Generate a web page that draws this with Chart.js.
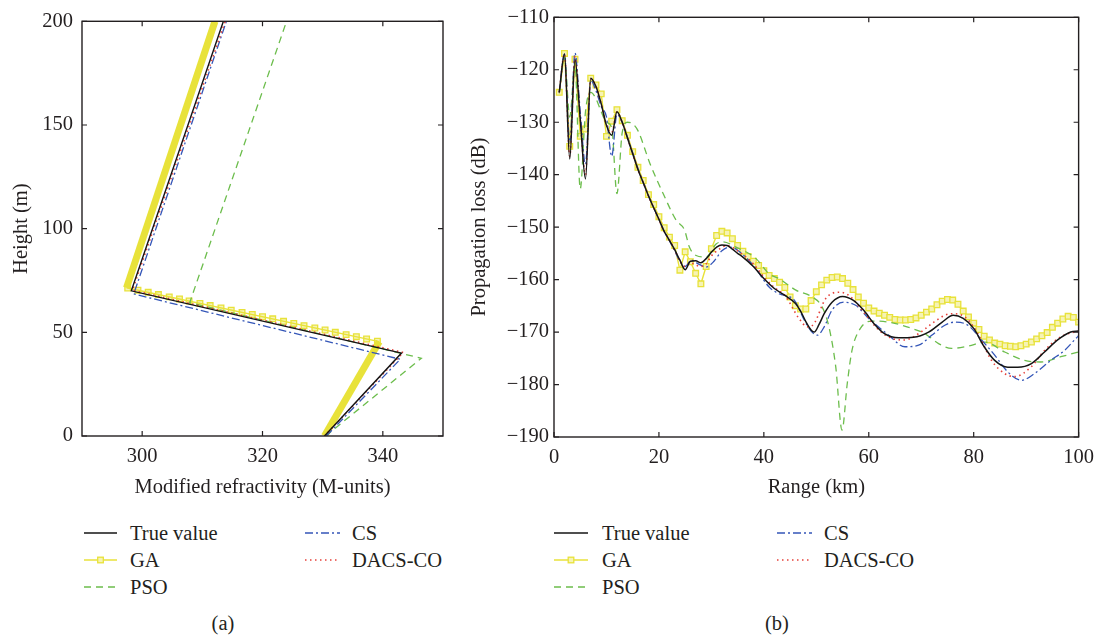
<!DOCTYPE html>
<html>
<head>
<meta charset="utf-8">
<script src="https://cdn.jsdelivr.net/npm/chart.js@4.4.0/dist/chart.umd.min.js"></script>
<style>
  body { margin: 0; background: #fff; width: 1102px; height: 639px; position: relative; overflow: hidden;
         font-family: 'Liberation Serif', 'DejaVu Serif', serif; color: #231f20; }
  .panel { position: absolute; top: 0; }
  #canvasA { left: 0; }
  #canvasB { left: 450px; }
  .legText { position: absolute; font-size: 20.5px; line-height: 1; transform: translateY(-50%); white-space: nowrap; }
  .legLine { position: absolute; overflow: visible; }
  .caption { position: absolute; font-size: 20.5px; line-height: 1; transform: translate(-50%, -50%); }
</style>
</head>
<body>
<canvas id="canvasA" class="panel" width="460" height="500"></canvas>
<canvas id="canvasB" class="panel" width="652" height="500"></canvas>
<div id="legends"></div>
<div class="caption" style="left:223px;top:623px">(a)</div>
<div class="caption" style="left:777px;top:623px">(b)</div>

<script>
/* Refractivity profile inversion — (a) profiles, (b) propagation loss */

// ---- (a) modified refractivity profiles (M-units vs height) ----
const M_TICKS = [300, 320, 340];
const H_TICKS = [0, 50, 100, 150, 200];

const TRUE_M = [330.3, 343.1, 298.2, 313.5];
const TRUE_H = [0, 40, 70, 200];
const GA_M = [330.3, 339.4, 297.4, 312.1];
const GA_H = [0, 45.5, 71.5, 200];
const PSO_M = [330.5, 346.4, 307.9, 324.0];
const PSO_H = [0, 37.5, 64.3, 200];
const CS_M = [330.6, 342.9, 298.6, 314.0];
const CS_H = [0, 37.0, 68.5, 200];
const DACS_M = [330.3, 343.4, 298.4, 313.8];
const DACS_H = [0, 40.3, 70.3, 200];
// GA square markers visible along the trapping-layer segment
const GA_MARK_M = [297.6, 299.3, 301.0, 302.7, 304.5, 306.2, 307.8, 309.6, 311.3, 313.1, 314.8, 316.6, 318.3,
  320.0, 321.7, 323.5, 325.2, 326.9, 328.7, 330.4, 332.1, 333.9, 335.6, 337.3, 339.1];
const GA_MARK_H = [71.4, 70.3, 69.3, 68.2, 67.1, 66.1, 65.1, 63.9, 62.9, 61.8, 60.7, 59.6, 58.6,
  57.5, 56.5, 55.3, 54.3, 53.2, 52.1, 51.1, 50.0, 48.9, 47.9, 46.8, 45.7];

// ---- (b) propagation loss vs range ----
const KM_TICKS = [0, 20, 40, 60, 80, 100];
const DB_TICKS = [-190, -180, -170, -160, -150, -140, -130, -120, -110];

const TRUE_KM = [1,2,3,4,5,6,7,8,9,10,11,12,13,14,15,16,17,18,19,20,21,22,23,24,25,26,27,28,29,30,31,32,33,34,35,36,38,40,42,44,46,47,48,49,49.6,50.5,51.5,53,55,57,59,61,63,65.7,68.5,71.4,74,76.1,78,80,82,84,86.5,88.4,91,93.5,96,98.5,100];
const TRUE_LOSS = [-124.3,-117,-137,-118,-129.4,-140.8,-121.6,-123.2,-126.5,-130.6,-132.5,-128,-130,-133,-136,-139,-141.5,-144,-146.3,-148.5,-150.8,-152.5,-154.3,-156.3,-158.1,-156.5,-156.4,-156.8,-156,-154.8,-153.8,-153.4,-153.5,-154.2,-155,-155.7,-157.5,-159.8,-161.7,-163,-164.5,-166,-168,-169.6,-170,-168.6,-166.5,-164.3,-163.2,-163.9,-165.8,-168.4,-170.3,-171.1,-171.0,-170.0,-168.1,-166.8,-167.4,-169.3,-172.8,-175.4,-176.7,-176.7,-176.0,-173.8,-171.5,-170.0,-169.8];

const GA_KM = [1,2,3,4,5,6,7,8,9,10,11,12,13,14,15,16,17,18,19,20,21,22,23,24,25,26,27,28,29,30,31,32,33,34,35,36,37,38,39,40,41,42,43,44,45,46,47,48,49,50,51,52,53,54,55,56,57,58,59,60,61,62,63,64,65,66,67,68,69,70,71,72,73,74,75,76,77,78,79,80,81,82,83,84,85,86,87,88,89,90,91,92,93,94,95,96,97,98,99,100];
const GA_LOSS = [-124.3,-116.9,-134.6,-118.0,-132.7,-131.3,-121.6,-122.9,-124.6,-132.7,-129.8,-127.6,-129.7,-132.5,-135.6,-138.6,-141.1,-143.8,-145.7,-148.0,-150.1,-151.9,-153.5,-158.2,-154.7,-156.6,-158.8,-160.8,-157.5,-154.1,-151.6,-150.8,-151.1,-152.2,-153.5,-154.6,-155.6,-156.5,-157.3,-158.3,-159.2,-159.8,-160.5,-161.5,-163.3,-165.0,-165.6,-165.6,-164.0,-162.3,-161.0,-160.1,-159.6,-159.5,-159.8,-160.7,-161.9,-163.3,-164.5,-165.4,-166.0,-166.4,-166.8,-167.2,-167.6,-167.7,-167.7,-167.6,-167.3,-166.8,-166.2,-165.6,-164.8,-164.1,-163.8,-163.9,-164.7,-166.0,-167.1,-168.3,-169.5,-170.8,-171.5,-172.1,-172.3,-172.6,-172.7,-172.8,-172.6,-172.3,-171.9,-171.3,-170.7,-170.1,-169.1,-168.3,-167.5,-167.0,-167.2,-168.1];

const PSO_KM = [1,2,3,4,5,6,7,8,9,10,11,12,13,14,15,16,18.3,20.8,23.3,24.9,25.8,27.1,29,30.9,32.2,34.7,38.5,41,42.9,46.1,49.2,51.1,52.4,53.7,54.9,55.9,56.8,58.4,60.6,63.8,68.2,70.7,73.3,75.8,78.9,82.1,85.9,89.7,92.8,96.6,100];
const PSO_LOSS = [-124.5,-117.5,-129,-119,-142.7,-128,-124.3,-125.5,-128,-130,-131,-143.6,-132,-130,-130.3,-131.6,-137.9,-143.6,-148.7,-150.6,-153.8,-155.4,-155.7,-153.2,-152.8,-153.8,-156,-158.9,-159.8,-162,-163.3,-165.2,-169,-176.6,-188.7,-179.8,-173.5,-169.3,-167.9,-168.1,-169.3,-170.3,-172.2,-173.1,-172.7,-171.9,-173.8,-175.4,-175.7,-174.7,-173.8];

const CS_KM = [1,2,3,4,5,6,7,8,9,10,11,12,13,14,15,16,17,18,19,20,21,22,23,24,25,26.2,27.5,29,30.5,32,33.5,35,38,41,42.9,45.8,47.7,49,50.2,51.5,53,55.2,57.5,60,63.8,66.9,69.5,72,74.5,76.4,78.9,81.5,84,86.5,89.1,91.6,94.7,97.3,99.5,100];
const CS_LOSS = [-124.3,-117,-134,-116.8,-128,-138,-122,-124,-127,-129,-136.5,-128.5,-130,-132.8,-135.8,-138.8,-141.5,-144,-146.3,-148.5,-150.8,-152.6,-154.5,-156.5,-157.5,-156.3,-157,-157.6,-156.5,-154.5,-153.8,-154.4,-157.3,-161.4,-162.7,-163.9,-167.7,-169.8,-170.6,-169,-165.8,-164.3,-164.9,-167.4,-170.6,-172.8,-172.5,-170.6,-168.7,-168.1,-168.7,-171.5,-174.4,-177.6,-179.2,-177.9,-175.4,-173.5,-171.2,-170.7];

const DACS_KM = [1,2,3,4,5,6,7,8,9,10,11,12,13,14,15,16,17,18,19,20,21,22,23,24,25,26,27,28,29,30,31.5,33,35,38,40,42,44,46.7,48.3,49.5,51.8,54.3,56.2,58.7,61.9,64.4,66.9,69.5,72,74.5,75.8,78.3,80.8,83.4,85.9,87.8,91,93.5,96.6,99.2,100];
const DACS_LOSS = [-124.3,-117,-136.5,-117.5,-129.5,-140,-121.8,-123.2,-126.5,-130.5,-132,-128,-130,-133,-136,-139,-141.5,-144,-146.3,-148.5,-150.8,-152.5,-154.3,-156.5,-157.5,-156.8,-157.2,-157.5,-157,-155.5,-154.2,-153.5,-154.5,-157,-159.5,-161.5,-163,-167.4,-169,-168.5,-163.6,-162.4,-163,-165.8,-169.6,-171.2,-171.5,-170.3,-168.4,-166.8,-166.5,-167.1,-170.3,-175.4,-177.9,-178.5,-176.6,-173.5,-170.9,-170,-169.9];

const COLORS = {
  true: '#151515', ga: '#e8e23a', gaFill: '#f6f3b4',
  pso: '#6cbd4c', cs: '#3456b8', dacs: '#e6403a', axis: '#231f20'
};
const DASH = { pso: [7, 5], cs: [8, 3, 2, 3], dacs: [1.5, 3.5] };
const FONT = { family: "'Liberation Serif', 'DejaVu Serif', serif", size: 20.5 };

const pts = (xs, ys) => xs.map((x, i) => ({ x, y: ys[i] }));

// frame + inward ticks on all four sides
const framePlugin = {
  id: 'frame',
  afterDatasetsDraw(chart) {
    const { ctx, chartArea: a, scales } = chart;
    ctx.save();
    ctx.strokeStyle = COLORS.axis;
    ctx.lineWidth = 1.4;
    ctx.strokeRect(a.left, a.top, a.right - a.left, a.bottom - a.top);
    ctx.lineWidth = 1.2;
    const tl = 5;
    ctx.beginPath();
    scales.x.ticks.forEach(t => {
      const px = scales.x.getPixelForValue(t.value);
      ctx.moveTo(px, a.bottom); ctx.lineTo(px, a.bottom - tl);
      ctx.moveTo(px, a.top); ctx.lineTo(px, a.top + tl);
    });
    scales.y.ticks.forEach(t => {
      const py = scales.y.getPixelForValue(t.value);
      ctx.moveTo(a.left, py); ctx.lineTo(a.left + tl, py);
      ctx.moveTo(a.right, py); ctx.lineTo(a.right - tl, py);
    });
    ctx.stroke();
    ctx.restore();
  }
};

function axis(min, max, tickList, title, opts) {
  return {
    type: 'linear', min, max,
    afterBuildTicks: s => { s.ticks = tickList.map(v => ({ value: v })); },
    afterFit: opts.fit,
    grid: { display: false, drawTicks: false },
    border: { display: false },
    ticks: { font: FONT, color: COLORS.axis, padding: opts.pad, maxRotation: 0, autoSkip: false,
             callback: v => String(v).replace('-', '\u2212') },
    title: { display: true, text: title, font: FONT, color: COLORS.axis, padding: opts.titlePad }
  };
}

function lineSet(label, data, color, width, dash, extra) {
  return Object.assign({
    label, data, borderColor: color, backgroundColor: color, borderWidth: width,
    borderDash: dash || [], pointRadius: 0, showLine: true, fill: false, tension: 0
  }, extra || {});
}

function baseOptions(scales, padding) {
  return {
    responsive: false, animation: false, devicePixelRatio: 1,
    layout: { padding },
    plugins: { legend: { display: false }, tooltip: { enabled: false } },
    scales
  };
}

function renderProfiles() {
  const ctx = document.getElementById('canvasA').getContext('2d');
  new Chart(ctx, {
    type: 'scatter',
    data: {
      datasets: [
        lineSet('True value', pts(TRUE_M, TRUE_H), COLORS.true, 1.4, null, { order: 0 }),
        lineSet('DACS-CO', pts(DACS_M, DACS_H), COLORS.dacs, 1.5, DASH.dacs, { order: 1 }),
        lineSet('CS', pts(CS_M, CS_H), COLORS.cs, 1.3, DASH.cs, { order: 2 }),
        lineSet('PSO', pts(PSO_M, PSO_H), COLORS.pso, 1.3, DASH.pso, { order: 3 }),
        lineSet('GA', pts(GA_M, GA_H), COLORS.ga, 1.4, null, {
          order: 4,
          segment: { borderWidth: c => c.p0DataIndex === 1 ? 1.4 : 7 }
        }),
        {
          label: 'GA markers', data: pts(GA_MARK_M, GA_MARK_H), showLine: false, order: 4,
          pointStyle: 'rect', pointRadius: 4, pointBorderWidth: 1.3,
          pointBorderColor: COLORS.ga, pointBackgroundColor: COLORS.gaFill
        }
      ]
    },
    options: baseOptions({
      x: axis(290, 350, M_TICKS, 'Modified refractivity (M-units)',
        { pad: 8, titlePad: { top: 0, bottom: 0 }, fit: s => { s.height = 64; } }),
      y: axis(0, 200, H_TICKS, 'Height (m)',
        { pad: 9, titlePad: { top: 9, bottom: 0 }, fit: s => { s.width = 82; } })
    }, { top: 17, right: 17, left: 0, bottom: 0 }),
    plugins: [framePlugin]
  });
}

function renderLoss() {
  const ctx = document.getElementById('canvasB').getContext('2d');
  const smooth = { cubicInterpolationMode: 'monotone' };
  new Chart(ctx, {
    type: 'scatter',
    data: {
      datasets: [
        lineSet('True value', pts(TRUE_KM, TRUE_LOSS), COLORS.true, 1.5, null, Object.assign({ order: 0 }, smooth)),
        lineSet('DACS-CO', pts(DACS_KM, DACS_LOSS), COLORS.dacs, 1.6, DASH.dacs, Object.assign({ order: 1 }, smooth)),
        lineSet('CS', pts(CS_KM, CS_LOSS), COLORS.cs, 1.3, DASH.cs, Object.assign({ order: 2 }, smooth)),
        lineSet('PSO', pts(PSO_KM, PSO_LOSS), COLORS.pso, 1.3, DASH.pso, Object.assign({ order: 3 }, smooth)),
        lineSet('GA', pts(GA_KM, GA_LOSS), COLORS.ga, 1.4, null, {
          order: 4, pointStyle: 'rect', pointRadius: 4, pointBorderWidth: 1.3,
          pointBorderColor: COLORS.ga, pointBackgroundColor: COLORS.gaFill
        })
      ]
    },
    options: baseOptions({
      x: axis(0, 100, KM_TICKS, 'Range (km)',
        { pad: 8, titlePad: { top: 0, bottom: 0 }, fit: s => { s.height = 63; } }),
      y: axis(-190, -110, DB_TICKS, 'Propagation loss (dB)',
        { pad: 5, titlePad: { top: 17, bottom: 0 }, fit: s => { s.width = 104; } })
    }, { top: 16, right: 21, left: 0, bottom: 0 }),
    plugins: [framePlugin]
  });
}

// legend rows laid out as in the figure: two columns under each panel
const LEGEND_ITEMS = [
  { key: 'true', text: 'True value', col: 0, row: 0 },
  { key: 'ga', text: 'GA', col: 0, row: 1 },
  { key: 'pso', text: 'PSO', col: 0, row: 2 },
  { key: 'cs', text: 'CS', col: 1, row: 0 },
  { key: 'dacs', text: 'DACS-CO', col: 1, row: 1 }
];
const LEGEND_ROWS_Y = [533, 560, 587];
const LEGEND_COLS = {
  a: [{ x0: 84, x1: 117, tx: 130 }, { x0: 305, x1: 340, tx: 352 }],
  b: [{ x0: 554, x1: 588, tx: 602 }, { x0: 777, x1: 812, tx: 824 }]
};

function sampleSvg(key, w) {
  const y = 6;
  const stroke = key === 'true' ? COLORS.true : COLORS[key];
  const dash = DASH[key] ? `stroke-dasharray="${DASH[key].join(',')}"` : '';
  let s = `<line x1="0" y1="${y}" x2="${w}" y2="${y}" stroke="${stroke}" stroke-width="1.4" ${dash}/>`;
  if (key === 'ga') {
    s += `<rect x="${w / 2 - 2.8}" y="${y - 2.8}" width="5.6" height="5.6" fill="${COLORS.gaFill}" stroke="${COLORS.ga}" stroke-width="1.3"/>`;
  }
  return s;
}

function renderLegends() {
  const box = document.getElementById('legends');
  let html = '';
  Object.keys(LEGEND_COLS).forEach(panel => {
    LEGEND_ITEMS.forEach(it => {
      const c = LEGEND_COLS[panel][it.col];
      const y = LEGEND_ROWS_Y[it.row];
      const w = c.x1 - c.x0;
      html += `<svg class="legLine" style="left:${c.x0}px;top:${y - 6}px" width="${w}" height="12">${sampleSvg(it.key, w)}</svg>`;
      html += `<div class="legText" style="left:${c.tx}px;top:${y}px">${it.text}</div>`;
    });
  });
  box.innerHTML = html;
}

renderProfiles();
renderLoss();
renderLegends();
</script>
</body>
</html>
